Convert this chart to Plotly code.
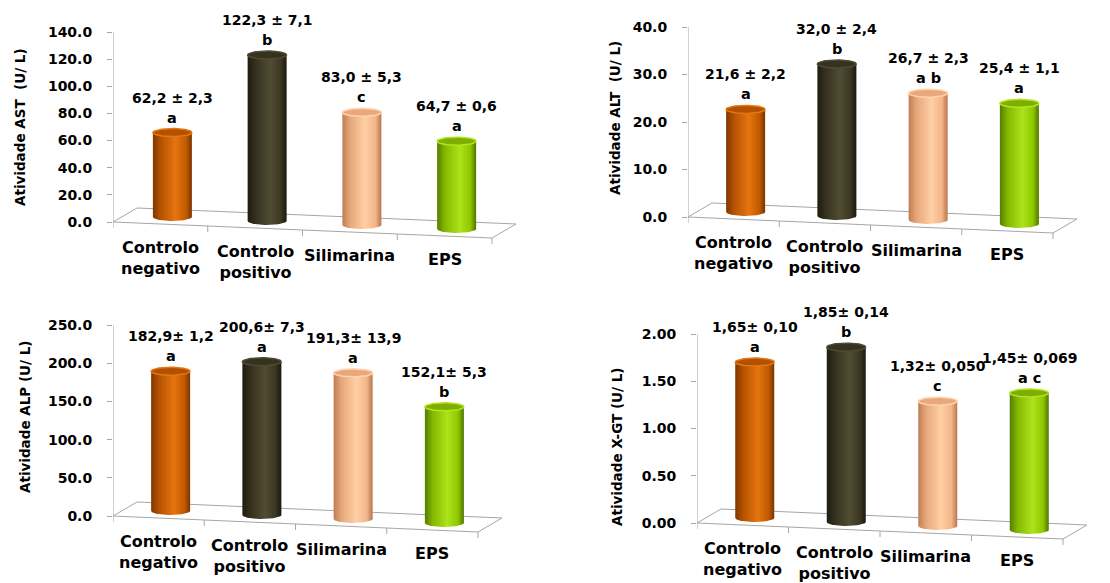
import numpy as np
import plotly.graph_objects as go

# ---------------------------------------------------------------- data
CATEGORIES = ["Controlo<br>negativo", "Controlo<br>positivo", "Silimarina", "EPS"]

AST_MEAN = [62.2, 122.3, 83.0, 64.7]
AST_SD = ["2,3", "7,1", "5,3", "0,6"]
AST_LETTERS = ["a", "b", "c", "a"]
AST_TICKS = [0, 20, 40, 60, 80, 100, 120, 140]

ALT_MEAN = [21.6, 32.0, 26.7, 25.4]
ALT_SD = ["2,2", "2,4", "2,3", "1,1"]
ALT_LETTERS = ["a", "b", "a b", "a"]
ALT_TICKS = [0, 10, 20, 30, 40]

ALP_MEAN = [182.9, 200.6, 191.3, 152.1]
ALP_SD = ["1,2", "7,3", "13,9", "5,3"]
ALP_LETTERS = ["a", "a", "a", "b"]
ALP_TICKS = [0, 50, 100, 150, 200, 250]

GGT_MEAN = [1.65, 1.85, 1.32, 1.45]
GGT_SD = ["0,10", "0,14", "0,050", "0,069"]
GGT_LETTERS = ["a", "b", "c", "a c"]
GGT_TICKS = [0, 0.5, 1.0, 1.5, 2.0]

# ---------------------------------------------------------------- style
W, H = 1110, 583
FONT = "DejaVu Sans"
GRID = "#a6a6a6"

# cylinder shading: body gradient (left edge -> highlight -> right edge), lid fill, lid rim
BODY_SCALES = [
    [[0, "#7e3700"], [0.2, "#b55200"], [0.58, "#e57510"], [0.85, "#c35a00"], [1, "#7a3500"]],
    [[0, "#1e1c10"], [0.2, "#33301e"], [0.58, "#514c33"], [0.85, "#3a3723"], [1, "#1b190f"]],
    [[0, "#c07c54"], [0.2, "#e6a77a"], [0.58, "#ffcfa4"], [0.85, "#f2b589"], [1, "#b97550"]],
    [[0, "#557d00"], [0.2, "#84b800"], [0.58, "#ace31a"], [0.85, "#90c800"], [1, "#4f7600"]],
]
LID_FILL = ["#b45100", "#35321f", "#e9a87c", "#7fae00"]
LID_RIM = ["#e2780f", "#4f4a31", "#ffd3ad", "#b0e424"]

# 3-D look (pixels): floor slope per category, floor depth offset, bar half width, lid radius
SLOPE_PX = 4.0
DEPTH_PX = (24.0, 14.0)
BAR_HALF_PX = 19.5
LID_PX = 4.0
TICK_PX = 6.0

PANELS = [
    dict(mean=AST_MEAN, sd=AST_SD, letters=AST_LETTERS, ticks=AST_TICKS, dec=1, sep=" ± ",
         title="Atividade AST  (U/ L)", left=113, catw=94.75, y0=222, ytop=32, title_xy=(20, 127)),
    dict(mean=ALT_MEAN, sd=ALT_SD, letters=ALT_LETTERS, ticks=ALT_TICKS, dec=1, sep=" ± ",
         title="Atividade ALT  (U/ L)", left=688, catw=91.25, y0=217, ytop=27, title_xy=(615, 118)),
    dict(mean=ALP_MEAN, sd=ALP_SD, letters=ALP_LETTERS, ticks=ALP_TICKS, dec=1, sep="± ",
         title="Atividade ALP (U/ L)", left=113, catw=91.25, y0=516, ytop=325, title_xy=(25, 417)),
    dict(mean=GGT_MEAN, sd=GGT_SD, letters=GGT_LETTERS, ticks=GGT_TICKS, dec=2, sep="± ",
         title="Atividade X-GT (U/ L)", left=697, catw=91.5, y0=523, ytop=334, title_xy=(617, 447)),
]

fig = go.Figure()
annotations = []
layout_axes = {}
n = len(CATEGORIES)
t = np.linspace(0, np.pi, 40)
s = np.linspace(0, 2 * np.pi, 80)

for k, p in enumerate(PANELS):
    sfx = "" if k == 0 else str(k + 1)
    xref, yref = "x" + sfx, "y" + sfx
    ymax = p["ticks"][-1]
    upp = ymax / (p["y0"] - p["ytop"])      # value units per pixel
    cpp = 1.0 / p["catw"]                   # category units per pixel
    slope = -SLOPE_PX * upp
    ddx, ddy = DEPTH_PX[0] * cpp, DEPTH_PX[1] * upp

    def front(x):
        return slope * x

    common = dict(xaxis=xref, yaxis=yref, hoverinfo="skip", showlegend=False)

    # floor outline
    fig.add_trace(go.Scatter(
        x=[0, n, n + ddx, ddx, 0],
        y=[0, front(n), front(n) + ddy, ddy, 0],
        mode="lines", line=dict(color=GRID, width=1), **common))
    # value axis line
    fig.add_trace(go.Scatter(x=[0, 0], y=[0, ymax], mode="lines",
                             line=dict(color=GRID, width=1), **common))
    # category separators on the front edge
    tx, ty = [], []
    for j in range(n + 1):
        tx += [j, j, None]
        ty += [front(j), front(j) - TICK_PX * upp, None]
    fig.add_trace(go.Scatter(x=tx, y=ty, mode="lines",
                             line=dict(color=GRID, width=1), **common))

    a = BAR_HALF_PX * cpp
    b = LID_PX * upp
    for i in range(n):
        xc = i + 0.5 + ddx / 2
        base = front(i + 0.5) + ddy / 2
        top = base + p["mean"][i]
        # cylinder body
        bx = np.concatenate([xc - a * np.cos(t), [xc + a], xc + a * np.cos(t), [xc - a]])
        by = np.concatenate([base - b * np.sin(t), [top], top - b * np.sin(t), [base]])
        fig.add_trace(go.Scatter(
            x=bx, y=by, mode="lines", fill="toself",
            line=dict(color="rgba(0,0,0,0)", width=0),
            fillgradient=dict(type="horizontal", colorscale=BODY_SCALES[i]),
            **common))
        # lid
        fig.add_trace(go.Scatter(
            x=xc + a * np.cos(s), y=top + b * np.sin(s), mode="lines", fill="toself",
            fillcolor=LID_FILL[i], line=dict(color=LID_RIM[i], width=1.5), **common))

        mean_txt = f"{p['mean'][i]:.{p['dec']}f}".replace(".", ",")
        annotations.append(dict(
            x=xc, y=top, xref=xref, yref=yref, text=mean_txt + p["sep"] + p["sd"][i],
            showarrow=False, yanchor="middle", yshift=35,
            font=dict(family=FONT, size=14, color="#000", weight="bold")))
        annotations.append(dict(
            x=xc, y=top, xref=xref, yref=yref, text=p["letters"][i],
            showarrow=False, yanchor="middle", yshift=15,
            font=dict(family=FONT, size=14.5, color="#000", weight="bold")))
        # category label below the front edge
        annotations.append(dict(
            x=i + 0.5, y=front(i + 0.5), xref=xref, yref=yref, text=CATEGORIES[i],
            showarrow=False, yanchor="top", yshift=-12, align="center",
            font=dict(family=FONT, size=16, color="#000", weight="bold")))

    # axis title
    annotations.append(dict(
        x=p["title_xy"][0] / W, y=1 - p["title_xy"][1] / H, xref="paper", yref="paper",
        text=p["title"], textangle=-90, showarrow=False,
        xanchor="center", yanchor="middle",
        font=dict(family=FONT, size=13.5, color="#000", weight="bold")))

    xr_px = n * p["catw"] + 40
    bottom_px, top_px = p["y0"] + 34, p["ytop"] - 8
    layout_axes["xaxis" + sfx] = dict(
        domain=[p["left"] / W, (p["left"] + xr_px) / W],
        range=[0, xr_px / p["catw"]], visible=False, anchor=yref, fixedrange=True)
    layout_axes["yaxis" + sfx] = dict(
        domain=[1 - bottom_px / H, 1 - top_px / H],
        range=[-34 * upp, ymax + 8 * upp], anchor=xref,
        tickvals=p["ticks"], ticktext=[f"{v:.{p['dec']}f}" for v in p["ticks"]],
        ticks="outside", ticklen=5, tickcolor=GRID, tickwidth=1,
        ticklabelstandoff=12,
        showgrid=False, zeroline=False, showline=False, fixedrange=True,
        tickfont=dict(family=FONT, size=14, color="#000", weight="bold"))

fig.update_layout(
    width=W, height=H,
    margin=dict(l=0, r=0, t=0, b=0),
    paper_bgcolor="white", plot_bgcolor="rgba(0,0,0,0)",
    annotations=annotations,
    showlegend=False,
    **layout_axes,
)

fig.write_html("out.html")
